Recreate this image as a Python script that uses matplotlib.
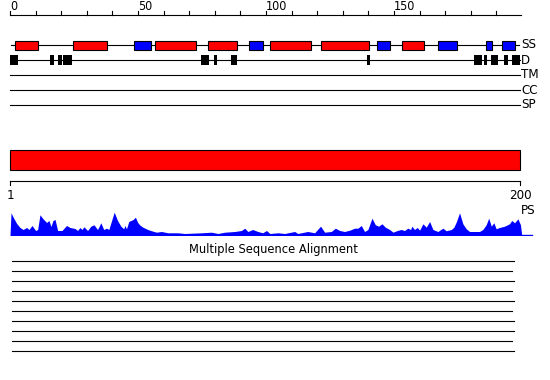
# PSIPRED style summary of one 200 residue sequence
import matplotlib
matplotlib.use("Agg")
import matplotlib.pyplot as plt
from matplotlib.patches import Rectangle

seq_len = 200

# secondary structure: (start, end, kind)  H = helix, E = strand
ss_elements = [
    (2.0, 10.9, "H"), (24.7, 37.8, "H"), (48.6, 55.0, "E"), (56.8, 72.8, "H"),
    (77.5, 88.6, "H"), (93.5, 98.7, "E"), (101.6, 117.5, "H"), (121.5, 140.4, "H"),
    (143.4, 148.3, "E"), (153.2, 161.6, "H"), (167.3, 174.5, "E"),
    (186.1, 188.2, "E"), (192.3, 197.1, "E"),
]

# disordered segments
disorder = [
    (0.0, 3.1), (15.6, 17.2), (18.75, 20.3), (20.7, 24.2), (74.6, 77.7),
    (79.7, 80.9), (86.3, 88.7), (139.5, 140.6), (181.25, 184.4), (185.2, 186.3),
    (187.9, 190.6), (193.0, 194.5), (196.0, 199.2),
]

track_names = ["SS", "D", "TM", "CC", "SP"]
ruler_labels = [0, 50, 100, 150]

# profile score along the sequence
ps_pos = [0, 0.4, 1.3, 2.6, 3.9, 5.1, 6.5, 7.4, 8.6, 10, 10.8, 11.7, 12.9, 14.3, 15.2,
          16, 16.8, 17.6, 18.6, 20.3, 22.1, 23.4, 25.4, 26.4, 27.3, 28.1, 28.9, 30.3,
          31.6, 32.8, 34.2, 35.5, 36.6, 37.7, 38.6, 39.7, 40.7, 42, 43.3, 44.4, 44.9,
          45.5, 46.4, 48.1, 49, 49.8, 50.7, 51.9, 53.8, 55.3, 57.2, 59.2, 61.7, 65.6,
          68.3, 74.8, 78.7, 81.2, 83.9, 87.8, 90.4, 91.7, 92.9, 94.8, 96.8, 98.7,
          100.2, 101.5, 104.7, 107.3, 111.2, 112.4, 116.3, 119, 121.3, 122.9, 125.5,
          127.1, 128.8, 130.7, 132.7, 134.6, 135.9, 137.2, 138.5, 139.8, 141.4, 142.7,
          144, 145.3, 146.6, 148.3, 149.6, 151.3, 152.8, 154.1, 155.4, 156.5, 157,
          158, 159.1, 160, 161.3, 162.6, 163.9, 165.2, 167.1, 169.1, 170.4, 172.4,
          173.4, 174.4, 175.6, 176.9, 178.2, 179.5, 183.4, 184.7, 186, 187, 188, 189,
          189.9, 191.2, 193.2, 195.1, 196, 197.1, 198.4, 199.4, 199.9]
ps_val = [0, 22.7, 18, 12, 8, 6, 8, 6, 10, 5, 6, 20.7, 16.7, 13, 15,
          9, 15, 16, 5, 5, 10, 8, 7, 5, 8, 6, 8.7, 5,
          9.3, 10.7, 6, 12.7, 6, 7.3, 6, 15, 23.3, 15, 9.3, 6.7, 10,
          6.7, 14, 16, 18.3, 13.3, 10.5, 8.3, 6, 4.7, 3.3, 4, 2.7, 2.7,
          2, 2.7, 3.3, 2, 3.3, 4, 5, 7.3, 4, 6, 4, 2.7,
          5, 2, 2.7, 2, 4, 2, 4, 2.7, 9.3, 3.3, 4,
          7.3, 5, 4, 5.3, 7.3, 7.3, 10, 4, 6, 17.3, 10.7,
          9.3, 11.7, 8.3, 6, 3.3, 5, 6, 5, 7.3, 6, 9.3,
          6, 8, 5.3, 11.7, 8.3, 14, 6, 4, 7.3, 4.7, 6,
          8.3, 14, 22.7, 11.7, 6.7, 4, 4, 6, 10.7, 17.3, 9.3, 12.7,
          6.7, 8, 9.3, 11.7, 15, 12.7, 16.7, 10.7, 0]

# lengths of the aligned sequences
msa_ends = [197.0, 196.2, 197.0, 196.2, 197.0, 196.2, 197.0, 197.0, 196.2, 197.0]

FONT = dict(family="DejaVu Sans", stretch="condensed")
px = 2.56            # pixels per residue
x0 = 10              # pixel of residue 0
W, H = 550, 380
ss_color = {"H": "#ff0000", "E": "#0000ff"}

fig = plt.figure(figsize=(W / 100, H / 100), dpi=100)
ax = fig.add_axes([0, 0, 1, 1])
ax.set_xlim(-x0 / px, (W - x0) / px)
ax.set_ylim(H, 0)
ax.axis("off")
lw = 0.8
end = 199.2

# top ruler
ax.plot([0, 199.5], [15, 15], color="k", lw=lw)
for t in range(0, seq_len, 10):
    ax.plot([t, t], [11, 15], color="k", lw=lw)
for t in ruler_labels:
    ax.text(t, 10.5, str(t), ha="left", va="baseline", fontsize=9, **FONT)

# tracks
rows = [45, 60, 75, 90, 105]
ax.plot([0.4, 198.8], [45, 45], color="k", lw=lw, zorder=1)
for r in rows[1:]:
    ax.plot([0, end], [r, r], color="k", lw=lw, zorder=1)
for s, e, k in ss_elements:
    ax.add_patch(Rectangle((s, 41), e - s, 9, fc=ss_color[k], ec="k", lw=lw, zorder=2))
for s, e in disorder:
    ax.add_patch(Rectangle((s, 55), e - s, 10, fc="k", ec="k", lw=0, zorder=2))
for name, r in zip(track_names, rows):
    ax.text(199.6, r, name, ha="left", va="center", fontsize=9.5, **FONT)

# whole-sequence bar and its ruler
ax.add_patch(Rectangle((0, 150), end, 20, fc="#ff0000", ec="k", lw=lw))
ax.plot([0, end], [181, 181], color="k", lw=lw)
ax.plot([0, 0], [181, 185], color="k", lw=lw)
ax.plot([end, end], [181, 185], color="k", lw=lw)
ax.text(0, 189, "1", ha="center", va="top", fontsize=9.5, **FONT)
ax.text(end, 189, str(seq_len), ha="center", va="top", fontsize=9.5, **FONT)
ax.text(199.6, 211, "PS", ha="left", va="center", fontsize=9.5, **FONT)

# profile
pax = fig.add_axes([0, (H - 235.5) / H, 1, 25 / H])
pax.set_xlim(-x0 / px, (W - x0) / px)
pax.set_ylim(0, 25)
pax.axis("off")
pax.fill_between(ps_pos, ps_val, 0, color="#0000ff", lw=0)
pax.plot([ps_pos[-1], 203.9], [0.3, 0.3], color="#0000ff", lw=1)

# alignment
ax.text(103.1, 250, "Multiple Sequence Alignment", ha="center", va="center",
        fontsize=8.3, family="DejaVu Sans")
for i, e in enumerate(msa_ends):
    y = 261 + 10 * i
    ax.plot([0.8, e], [y, y], color="k", lw=lw)

fig.savefig("out.png", dpi=100)
